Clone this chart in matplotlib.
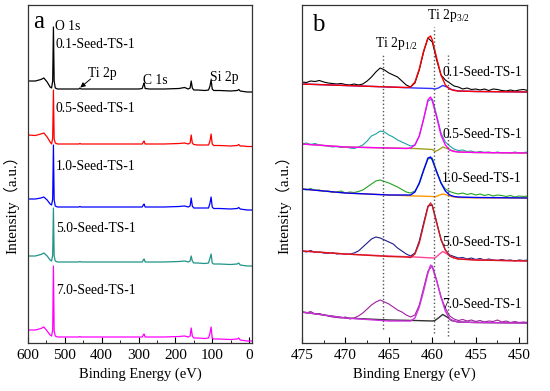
import numpy as np
import matplotlib
matplotlib.use("Agg")
import matplotlib.pyplot as plt
from matplotlib.ticker import MultipleLocator

plt.rcParams['font.family'] = ['Liberation Serif', 'Noto Sans CJK SC']
plt.rcParams['mathtext.fontset'] = 'custom'
plt.rcParams['mathtext.rm'] = 'Liberation Serif'

# ---- panel a: survey spectra (heights) ----
survey_ev = [600, 580, 565, 557, 548, 540, 536, 533, 531, 529, 526, 520, 480, 462, 459, 456,
             420, 380, 340, 300, 290, 287, 285, 282, 270, 230, 190, 175, 165, 160, 157, 154,
             150, 140, 120, 110, 106, 103, 100, 96, 80, 50, 32, 28, 24, 15, 5, -8]
survey_01 = [262, 262, 263.5, 265, 261, 256, 255, 262, 316, 262, 255, 254, 254, 254, 255, 254,
             254, 254, 254, 254, 254.5, 258, 260, 254.5, 254, 254, 254.5, 255.5, 254, 255, 262, 255,
             253, 253, 252.5, 253, 257, 263, 254, 252.5, 252.5, 252, 252.5, 253.5, 252, 251.5, 251, 251]
survey_05 = [208, 207.5, 209, 210, 206, 201, 199, 205, 253, 204, 200, 199, 199, 199, 199.5, 199,
             199, 199, 199, 199, 199, 201, 202, 199, 199, 199, 199.5, 200, 199, 200, 208, 200,
             198.5, 198, 198, 198, 202, 209, 199, 197.5, 197.5, 197, 197.5, 198.5, 197, 197, 196.5, 196.5]
survey_10 = [144, 144, 145, 146, 143, 139, 138, 144, 198, 143, 137, 136, 136, 136, 136.5, 136,
             136, 136, 136, 136, 136, 138, 139, 136, 136, 136, 136.5, 137, 136, 137, 145, 137,
             135, 135, 135, 135, 140, 146, 136, 134.5, 134.5, 134, 134.5, 135.5, 134, 133.5, 133, 133]
survey_50 = [87, 87, 88.5, 90, 87, 83, 82, 88, 135, 87, 82, 81, 81, 81, 81.5, 81,
             81, 81, 81, 81, 81, 83, 84, 81, 81, 81, 81.5, 82, 81, 82, 87, 82,
             80, 80, 79.5, 80, 85, 89, 80, 79, 79, 78.5, 79, 80, 78, 77.5, 77, 77]
survey_70 = [13, 13, 14.5, 16, 12, 8, 7, 13, 77, 12, 7, 6, 6, 6, 6.5, 6,
             6, 6, 6, 6, 6, 8, 9, 6, 6, 6, 6.5, 7, 6, 7, 15, 7,
             5, 5, 4.5, 5, 10, 16, 5, 4, 4, 3.5, 4, 5, 3, 2.5, 2, 2]

samples = ['0.1-Seed-TS-1', '0.5-Seed-TS-1', '1.0-Seed-TS-1', '5.0-Seed-TS-1', '7.0-Seed-TS-1']
survey_colors = ['black', '#ff0000', '#0000ff', '#1f9488', '#ff00ff']
survey_label_y = [299, 235, 176, 115, 53]

# ---- panel b: Ti 2p region ----
raw_ev = np.arange(475, 448.9, -0.5)
raw_01 = [261, 260.5, 262, 261.5, 262.5, 261, 260, 259.5, 259, 259.5, 258.5, 258, 259, 258, 259, 262,
          266, 271, 275, 273, 270, 268, 266, 262, 258, 256, 260, 273, 291, 305, 301, 283, 268, 263,
          260, 257, 256, 254, 255, 253.5, 254, 253, 254, 252.5, 254, 253.5, 252.5, 252, 253, 252,
          253, 253.5, 252.5]
raw_05 = [199, 200, 198.5, 199.5, 198, 197.5, 197, 196, 196.5, 195.5, 196, 195, 194.5, 196, 198, 202,
          207, 209, 212, 211, 208, 206, 203, 201, 199, 197, 198, 207, 224, 242, 244, 228, 210, 201,
          197, 194, 192.5, 193, 191.5, 192, 190.5, 191.5, 190.5, 191, 190, 191, 190, 190.5, 190, 191,
          190, 190.5, 191]
raw_10 = [154, 153, 154.5, 152.5, 153, 151.5, 152, 150.5, 151, 152, 150, 151, 150.5, 151.5, 153, 156,
          159, 162, 163, 161.5, 160, 158, 156, 153.5, 151, 150, 152, 159, 172, 184, 185, 172, 160, 154,
          151.5, 150, 149, 150, 148.5, 149.5, 148, 149, 147.5, 148.5, 147, 148, 147.5, 146.5, 147.5, 146,
          147, 146.5, 147]
raw_50 = [92, 91, 92.5, 90.5, 91, 90, 89.5, 90.5, 89, 89.5, 88.5, 89, 90, 92, 96, 100,
          104, 106, 105, 103, 101, 99, 95, 92, 89, 87, 90, 102, 120, 137, 138, 121, 103, 93,
          88, 86.5, 85, 85.5, 84, 85, 83.5, 84.5, 83, 84, 83, 82.5, 83.5, 82.5, 83, 82,
          83, 82.5, 83]
raw_70 = [31, 30, 31.5, 29, 29.5, 28, 27, 26, 25.5, 25, 26, 24, 25, 27, 30, 34,
          38, 41, 43, 41, 39, 36, 33, 31, 28, 26, 28, 38, 55, 72, 77, 63, 46, 35,
          27, 24, 22.5, 23.5, 22, 23, 21.5, 22.5, 21, 22, 21.5, 23, 21, 22, 20.5, 21.5,
          20.5, 21, 20.5]

fit_ev = [475, 470, 465, 463, 462.5, 462, 461.5, 461, 460.5, 460.2, 460, 459.5, 459, 458.5, 458, 457.5, 457, 455, 449]
fit_01 = [259, 257.5, 256, 255.5, 256, 261, 274, 292, 305, 307, 303, 285, 268, 258, 254, 252.5, 252, 251.5, 251]
fit_05 = [199, 196, 195, 194.5, 195, 198, 207, 224, 243, 246, 242, 226, 208, 198, 193, 191.5, 191, 190.5, 190]
fit_10 = [154, 150, 148, 148, 148, 151, 160, 173, 185, 186, 183, 171, 160, 152, 148, 146.5, 146, 145.5, 145]
fit_50 = [92, 89, 86.5, 86, 85.5, 89, 100, 118, 136, 140, 137, 120, 104, 93, 87, 85, 84, 83, 82]
fit_70 = [31, 25, 22, 22, 22, 25, 36, 52, 70, 78, 76, 62, 46, 32, 24, 22, 21, 20.5, 20]

bg_ev = [475, 470, 465, 462, 460, 459.7, 459.3, 458.8, 458.3, 457.8, 457, 455, 449]
bg_01 = [259, 257.5, 256, 255, 254.5, 254, 255, 257.5, 256, 253.5, 252, 251.5, 251]
bg_05 = [199, 196, 195, 194.5, 193.5, 191.5, 193, 196, 194.5, 192.5, 191, 190.5, 190]
bg_10 = [154, 150, 148, 147, 146.5, 146, 147.5, 149, 148, 146.5, 145.5, 145.2, 145]
bg_50 = [92, 89, 87, 86, 85, 85, 88, 91.5, 89, 86, 84, 83, 82]
bg_70 = [31, 25, 23, 22.5, 22, 22.5, 25, 28.5, 26, 22.5, 21, 20.5, 20]

raw_colors = ['black', '#1aa3a3', '#22a322', '#1c1c8c', '#a020a0']
fit_colors = ['#ff0000', '#ff00ff', '#0000ff', '#d81818', '#d030e0']
bg_colors = ['#3030ff', '#a0a020', '#ff9900', '#ff4499', '#303030']
b_label_y = [270, 208, 164, 101, 39]
peak_lines = [465.7, 459.8, 458.2]

fig = plt.figure(figsize=(5.5, 3.91), dpi=100)
ax1 = fig.add_axes([28/550, 48/391, 224/550, 338/391])
ax2 = fig.add_axes([302/550, 48/391, 225/550, 338/391])

surveys = [survey_01, survey_05, survey_10, survey_50, survey_70]
for ys, c in zip(surveys[::-1], survey_colors[::-1]):
    ax1.plot(survey_ev, ys, color=c, lw=0.9)
for name, y in zip(samples, survey_label_y):
    ax1.text(525, y, name, fontsize=9.8, va='center', ha='left')
ax1.text(528, 316, 'O 1s', fontsize=9.8, va='center', ha='left')
ax1.text(288, 263, 'C 1s', fontsize=9.8, va='center', ha='left')
ax1.text(106, 266, 'Si 2p', fontsize=9.8, va='center', ha='left')
ax1.text(437, 269, 'Ti 2p', fontsize=9.8, va='center', ha='left')
ax1.annotate('', xy=(458, 255.5), xytext=(430, 264),
             arrowprops=dict(arrowstyle='-|>', color='black', lw=0.7, mutation_scale=7,
                             shrinkA=0, shrinkB=0))
ax1.text(587, 321, 'a', fontsize=18, va='center', ha='left')
ax1.set_xlim(600, -8)
ax1.set_ylim(0, 338)
ax1.xaxis.set_major_locator(MultipleLocator(100))
ax1.xaxis.set_minor_locator(MultipleLocator(50))

raws = [raw_01, raw_05, raw_10, raw_50, raw_70]
fits = [fit_01, fit_05, fit_10, fit_50, fit_70]
bgs = [bg_01, bg_05, bg_10, bg_50, bg_70]
for i in range(5):
    ax2.plot(raw_ev, raws[i], color=raw_colors[i], lw=0.8)
    ax2.plot(bg_ev, bgs[i], color=bg_colors[i], lw=1.0)
    ax2.plot(fit_ev, fits[i], color=fit_colors[i], lw=1.0)
    ax2.text(449.7, b_label_y[i], samples[i], fontsize=9.8, va='center', ha='right')
ax2.axvline(peak_lines[0], ymin=0.041, ymax=0.858, color='#555555', ls=':', lw=1)
ax2.axvline(peak_lines[1], ymin=0.030, ymax=0.935, color='#555555', ls=':', lw=1)
ax2.axvline(peak_lines[2], ymin=0.021, ymax=0.852, color='#555555', ls=':', lw=1)
ax2.text(460.6, 328, r'Ti 2p$_\mathregular{3/2}$', fontsize=9.8, va='center', ha='left')
ax2.text(466.6, 300, r'Ti 2p$_\mathregular{1/2}$', fontsize=9.8, va='center', ha='left')
ax2.text(473.8, 318, 'b', fontsize=18, va='center', ha='left')
ax2.set_xlim(475, 449.1)
ax2.set_ylim(0, 338)
ax2.xaxis.set_major_locator(MultipleLocator(5))
ax2.xaxis.set_minor_locator(MultipleLocator(2.5))

for ax in (ax1, ax2):
    ax.set_yticks([])
    ax.tick_params(axis='x', which='both', direction='in', labelsize=11, top=False, pad=4)
    ax.tick_params(axis='x', which='major', length=4)
    ax.tick_params(axis='x', which='minor', length=2.5)
    ax.set_xlabel('Binding Energy (eV)', fontsize=10.5, labelpad=4)
    for s in ax.spines.values():
        s.set_color('#333333')
        s.set_linewidth(0.9)

fig.text(11/550, 1 - 201/391, 'Intensity（a.u.）', rotation=90, fontsize=11, ha='center', va='center')
fig.text(283/550, 1 - 201/391, 'Intensity（a.u.）', rotation=90, fontsize=11, ha='center', va='center')

fig.savefig('out.png', dpi=100)
